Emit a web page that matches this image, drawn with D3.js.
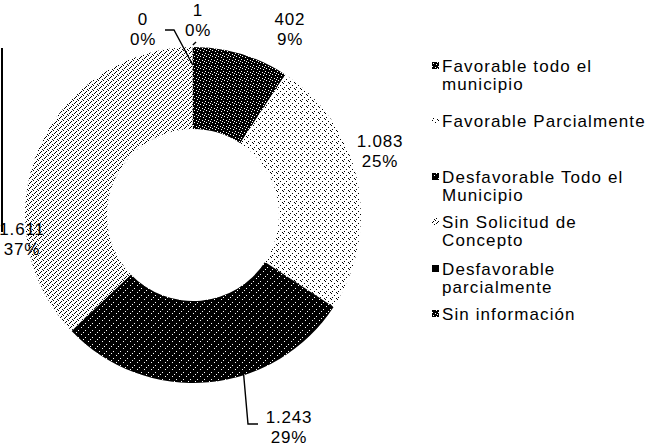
<!DOCTYPE html>
<html>
<head>
<meta charset="utf-8">
<script src="https://cdn.jsdelivr.net/npm/d3@7"></script>
<style>
  html, body { margin: 0; padding: 0; background: #fff; }
  svg { display: block; }
  text { font-family: "Liberation Sans", Arial, sans-serif; fill: #000; }
</style>
</head>
<body>
<script>
// ---- data ----
const categories = [
  "Favorable todo el municipio",
  "Favorable Parcialmente",
  "Desfavorable Todo el Municipio",
  "Sin Solicitud de Concepto",
  "Desfavorable parcialmente",
  "Sin información"
];
const values = [402, 1083, 1243, 1611, 0, 1];
const valueLabels = ["402", "1.083", "1.243", "1.611", "0", "1"];
const percentLabels = ["9%", "25%", "29%", "37%", "0%", "0%"];
const legendLines = [
  ["Favorable todo el", "municipio"],
  ["Favorable Parcialmente"],
  ["Desfavorable Todo el", "Municipio"],
  ["Sin Solicitud de", "Concepto"],
  ["Desfavorable", "parcialmente"],
  ["Sin información"]
];

// ---- layout / style ----
const W = 652, H = 448;
const cx = 193, cy = 215, outerR = 168, innerR = 86;
const fills = ["url(#pDark1)", "url(#pLight1)", "url(#pDark2)", "url(#pLight2)", "#000", "url(#pDark1)"];
// label anchor positions (x center, first baseline)
const labelPos = [
  [290, 25], [380, 147], [289, 423], [22, 235], [143, 25], [198, 16]
];
const legendX = 442, legendBaselines = [72, 127, 183, 228, 275, 320];

const svg = d3.select("body").append("svg").attr("width", W).attr("height", H);
svg.append("rect").attr("width", W).attr("height", H).attr("fill", "#fff");

const defs = svg.append("defs");
function pattern(id, size, bg, fg, dots) {
  const p = defs.append("pattern").attr("id", id)
    .attr("patternUnits", "userSpaceOnUse").attr("width", size).attr("height", size);
  p.append("rect").attr("width", size).attr("height", size).attr("fill", bg);
  dots.forEach(([x, y]) => p.append("rect").attr("x", x).attr("y", y)
    .attr("width", 1).attr("height", 1).attr("fill", fg));
}
pattern("pDark1", 6, "#000", "#fff", [[0,0],[3,1],[1,3],[4,4],[5,2]]);
pattern("pDark2", 7, "#000", "#fff", [[0,0],[4,3],[2,5]]);
pattern("pLight1", 6, "#fff", "#000", [[0,0],[3,2],[1,4],[5,5]]);
pattern("pLight2", 5, "#fff", "#000", [[0,0],[3,1],[1,3],[4,4],[2,2]]);

// ---- donut ----
const pie = d3.pie().sort(null).value(d => d).startAngle(0).endAngle(2 * Math.PI);
const arcs = pie(values);
const arc = d3.arc().innerRadius(innerR).outerRadius(outerR);
const g = svg.append("g").attr("transform", `translate(${cx},${cy})`);
g.selectAll("path").data(arcs).join("path")
  .attr("d", arc)
  .attr("fill", (d, i) => fills[i]);

// ---- data labels ----
const fs = 17;
const lab = svg.append("g").attr("font-size", fs).attr("letter-spacing", 0.8).attr("text-anchor", "middle");
arcs.forEach((a, i) => {
  const [x, y] = labelPos[i];
  const t = lab.append("text").attr("x", x).attr("y", y);
  t.append("tspan").attr("x", x).attr("y", y).text(valueLabels[i]);
  t.append("tspan").attr("x", x).attr("y", y + 20).text(percentLabels[i]);
});

// leader lines
const line = d3.line();
const leaderFrom = (i, frac, r) => {
  const a = arcs[i].startAngle + (arcs[i].endAngle - arcs[i].startAngle) * frac;
  return [cx + r * Math.sin(a), cy - r * Math.cos(a)];
};
const leaders = [
  [leaderFrom(2, 0.38, outerR - 1), [248, 424], [258, 424]],
  [[165, 30], [174, 30], leaderFrom(4, 0.5, outerR - 18)],
  [[196, 42], leaderFrom(5, 0.5, outerR + 2)]
];
svg.append("g").selectAll("path").data(leaders).join("path")
  .attr("d", d => line(d)).attr("fill", "none").attr("stroke", "#000").attr("stroke-width", 1.4);

// left edge frame line
svg.append("line").attr("x1", 2).attr("x2", 2).attr("y1", 48).attr("y2", 232)
  .attr("stroke", "#000").attr("stroke-width", 2);

// ---- legend ----
const leg = svg.append("g").attr("font-size", fs).attr("letter-spacing", 1.1);
categories.forEach((c, i) => {
  const b = legendBaselines[i];
  leg.append("rect").attr("x", legendX - 10).attr("y", b - 10).attr("width", 7).attr("height", 7)
    .attr("fill", fills[i]);
  legendLines[i].forEach((ln, j) => {
    leg.append("text").attr("x", legendX).attr("y", b + j * 18).text(ln);
  });
});
</script>
</body>
</html>
